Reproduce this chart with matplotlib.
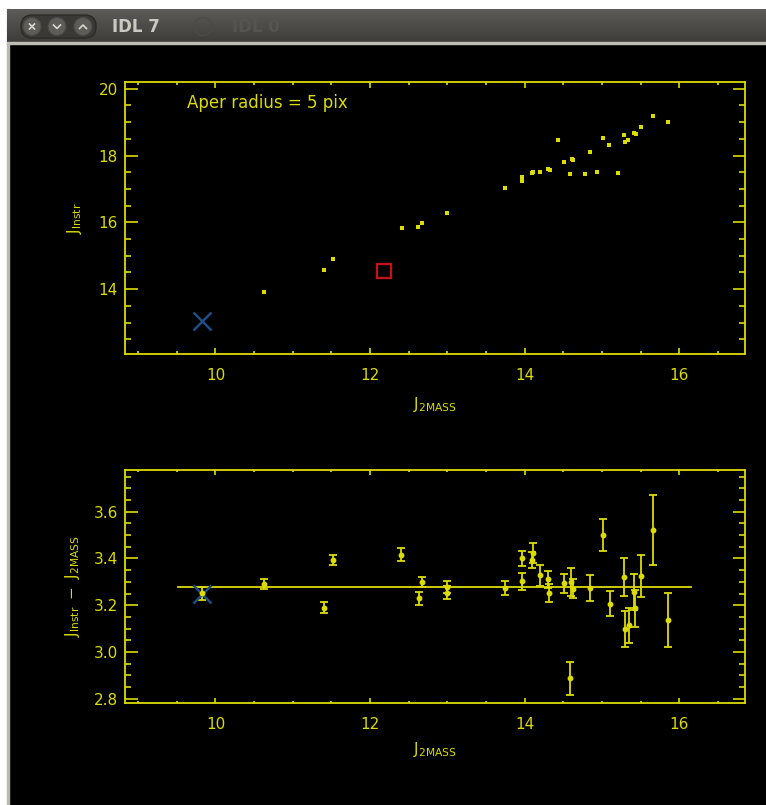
import numpy as np
import matplotlib
matplotlib.use("Agg")
import matplotlib.pyplot as plt
from matplotlib.patches import Rectangle, Circle, FancyBboxPatch
from matplotlib.ticker import MultipleLocator, FormatStrFormatter

# top panel: instrumental J vs 2MASS J
j2mass_top = [10.63, 11.40, 11.52, 12.41, 12.62, 12.67, 13.00, 13.74, 13.96, 13.97,
              14.10, 14.11, 14.20, 14.30, 14.33, 14.43, 14.51, 14.58, 14.61, 14.62,
              14.78, 14.84, 14.93, 15.01, 15.09, 15.21, 15.28, 15.30, 15.34, 15.41,
              15.44, 15.51, 15.66, 15.85]
jinstr_top = [13.93, 14.58, 14.90, 15.83, 15.86, 15.98, 16.28, 17.03, 17.25, 17.36,
              17.49, 17.52, 17.52, 17.60, 17.57, 18.45, 17.81, 17.45, 17.91, 17.87,
              17.45, 18.10, 17.52, 18.51, 18.30, 17.49, 18.61, 18.41, 18.45, 18.67,
              18.63, 18.84, 19.19, 18.99]

# special stars
cross_x, cross_y_top, cross_y_bot = 9.82, 13.05, 3.25
square_x, square_y = 12.18, 14.54

# bottom panel: J_instr - J_2MASS with errors
j2mass_bot = [9.82, 10.63, 11.41, 11.52, 12.40, 12.63, 12.67, 12.99, 13.00, 13.74,
              13.96, 13.97, 14.09, 14.11, 14.20, 14.30, 14.32, 14.51, 14.58, 14.60,
              14.62, 14.84, 15.01, 15.10, 15.28, 15.30, 15.35, 15.41, 15.43, 15.51,
              15.66, 15.85]
dj = [3.251, 3.29, 3.19, 3.393, 3.417, 3.23, 3.30, 3.253, 3.279, 3.273,
      3.302, 3.40, 3.393, 3.424, 3.329, 3.31, 3.251, 3.293, 2.886, 3.30,
      3.27, 3.274, 3.50, 3.207, 3.32, 3.10, 3.113, 3.257, 3.186, 3.324,
      3.52, 3.137]
dj_err = [0.027, 0.021, 0.022, 0.023, 0.028, 0.028, 0.022, 0.027, 0.025, 0.031,
          0.036, 0.034, 0.034, 0.044, 0.045, 0.036, 0.039, 0.041, 0.069, 0.06,
          0.04, 0.055, 0.069, 0.054, 0.081, 0.077, 0.077, 0.078, 0.08, 0.089,
          0.15, 0.114]
zp_level = 3.28
zp_x = [9.52, 16.15]

YEL = "#dcdc00"
W, H = 766, 805

fig = plt.figure(figsize=(W / 100, H / 100), dpi=100)
fig.patch.set_facecolor("white")

# window chrome, drawn in pixel coordinates
bg = fig.add_axes([0, 0, 1, 1], zorder=-10)
bg.set_xlim(0, W)
bg.set_ylim(H, 0)
bg.axis("off")
bg.add_patch(Rectangle((0, 0), W, H, color="white"))
bg.add_patch(Rectangle((8.5, 44), W, H, color="black"))
bg.add_patch(Rectangle((6.5, 9), 2.2, H, color="#b9b9b1"))
grad = np.linspace(0, 1, 40).reshape(-1, 1)
bg.imshow(grad, extent=(6.5, W, 43, 9), cmap=matplotlib.colors.LinearSegmentedColormap.from_list(
    "bar", ["#5c5b57", "#3d3c38"]), aspect="auto", zorder=1)
bg.add_patch(Rectangle((6.5, 42.5), W, 2, color="#bdbdb5", zorder=2))
bg.add_patch(FancyBboxPatch((21, 15), 75, 23, boxstyle="round,pad=0,rounding_size=11",
                            fc="#3a3935", ec="#2c2b28", lw=1, zorder=2))
for cx in [32, 57, 83]:
    bg.add_patch(Circle((cx, 26.5), 9, fc="#5d5c57", ec="#4a4945", lw=0.8, zorder=3))
bg.plot([29.5, 34.5], [24, 29], color="#d8d8d0", lw=1.2, zorder=4)
bg.plot([29.5, 34.5], [29, 24], color="#d8d8d0", lw=1.2, zorder=4)
bg.plot([53.5, 57, 60.5], [25, 28.5, 25], color="#d8d8d0", lw=1.2, zorder=4)
bg.plot([79.5, 83, 86.5], [28.5, 25, 28.5], color="#d8d8d0", lw=1.2, zorder=4)
bg.text(112, 27, "IDL 7", color="#cacac2", fontsize=12, fontweight="bold", va="center", zorder=4)
bg.add_patch(Circle((203, 26.5), 9, fc="none", ec="#4c4b47", lw=1, zorder=3))
bg.text(232, 27, "IDL 0", color="#55544f", fontsize=12, fontweight="bold", va="center", zorder=4)
bg.set_xlim(0, W)
bg.set_ylim(H, 0)


def px_axes(x0, y0, x1, y1):
    return fig.add_axes([x0 / W, 1 - y1 / H, (x1 - x0) / W, (y1 - y0) / H])


def style(ax, xmin, xmaj, ymaj, ymin, yfmt, xlen, ylen):
    ax.set_facecolor("black")
    for s in ax.spines.values():
        s.set_color(YEL)
        s.set_linewidth(1.3)
    ax.xaxis.set_major_locator(MultipleLocator(xmaj))
    ax.xaxis.set_minor_locator(MultipleLocator(xmin))
    ax.yaxis.set_major_locator(MultipleLocator(ymaj))
    ax.yaxis.set_minor_locator(MultipleLocator(ymin))
    ax.yaxis.set_major_formatter(FormatStrFormatter(yfmt))
    ax.tick_params(axis="x", which="major", direction="in", top=True, length=xlen,
                   width=1.2, color=YEL, labelcolor=YEL, labelsize=11, pad=10)
    ax.tick_params(axis="x", which="minor", direction="in", top=True, length=xlen / 2,
                   width=1.2, color=YEL)
    ax.tick_params(axis="y", which="major", direction="in", right=True, length=ylen,
                   width=1.2, color=YEL, labelcolor=YEL, labelsize=11, pad=5)
    ax.tick_params(axis="y", which="minor", direction="in", right=True, length=ylen / 2,
                   width=1.2, color=YEL)


# top panel
ax1 = px_axes(125, 82, 745, 354)
ax1.set_xlim(8.83, 16.85)
ax1.set_ylim(12.06, 20.2)
style(ax1, 0.5, 2, 2, 0.5, "%d", 4, 9)
ax1.plot(j2mass_top, jinstr_top, "s", color=YEL, ms=2.8, mew=0)
ax1.plot(square_x, square_y, "s", mfc="none", mec="#cc1010", ms=9.5, mew=1.6)
ax1.plot(cross_x, cross_y_top, "x", color="#1d4f86", ms=13, mew=1.8)
ax1.text(9.63, 19.58, "Aper radius = 5 pix", color=YEL, fontsize=12, va="center")

# bottom panel
ax2 = px_axes(125, 470, 745, 703)
ax2.set_xlim(8.83, 16.85)
ax2.set_ylim(2.781, 3.779)
style(ax2, 0.5, 2, 0.2, 0.05, "%.1f", 3.5, 9)
ax2.plot(zp_x, [zp_level, zp_level], color=YEL, lw=1.3)
ax2.errorbar(j2mass_bot, dj, yerr=dj_err, fmt="o", color=YEL, ms=3.2, elinewidth=1.3,
             capsize=3.2, capthick=1.3)
ax2.plot(cross_x, cross_y_bot, "x", color="#1d4f86", ms=13, mew=1.8)

# axis labels placed in pixel positions
lab = dict(color=YEL, fontsize=11, ha="center", va="center")
fig.text(435 / W, 1 - 404 / H, r"$\mathregular{J_{2MASS}}$", **lab)
fig.text(435 / W, 1 - 749 / H, r"$\mathregular{J_{2MASS}}$", **lab)
fig.text(75 / W, 1 - 218 / H, r"$\mathregular{J_{Instr}}$", rotation=90, **lab)
fig.text(73 / W, 1 - 586 / H, r"$\mathregular{J_{Instr}\ -\ J_{2MASS}}$", rotation=90, **lab)

fig.savefig("out.png", dpi=100, facecolor="white")
